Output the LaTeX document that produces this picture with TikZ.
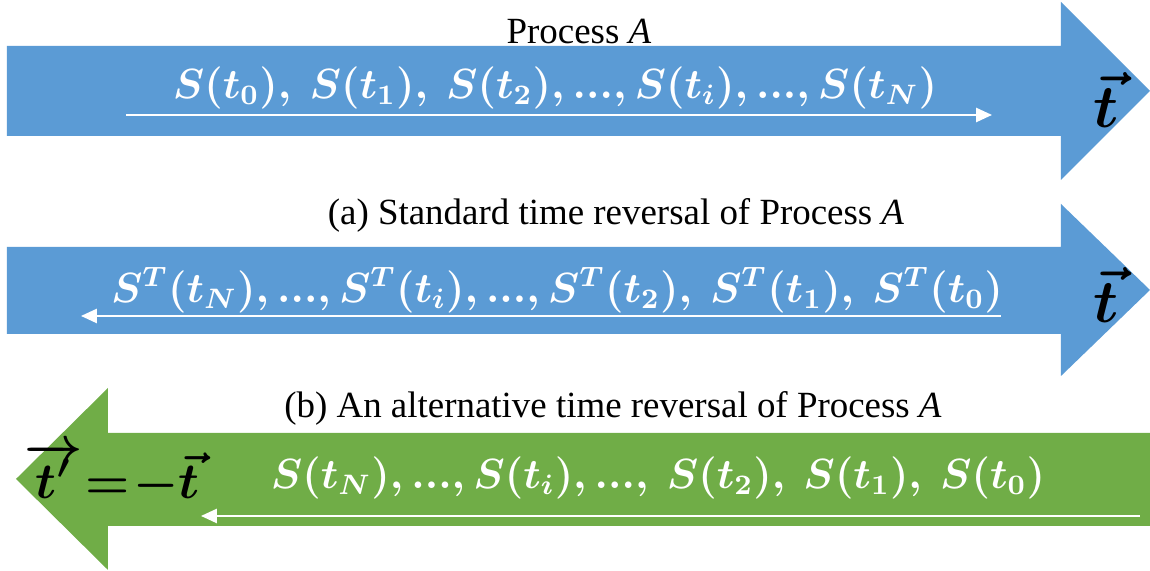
\documentclass[tikz,border=0pt]{standalone}
\usepackage{fontspec}
\setmainfont{Liberation Serif}
\usetikzlibrary{arrows.meta,positioning}
\definecolor{procblue}{HTML}{5B9BD5}
\definecolor{revgreen}{HTML}{70AD47}

\begin{document}
\begin{tikzpicture}[x=0.01cm,y=-0.01cm]
  \tikzstyle{caption}=[font=\fontsize{10.5}{12}\selectfont,inner sep=0pt]
  \tikzstyle{states}=[text=white,font=\fontsize{11.5}{14}\selectfont\boldmath,inner sep=0pt]
  \tikzstyle{timeaxis}=[font=\fontsize{19}{21}\selectfont\boldmath,inner sep=0pt]
  \tikzstyle{flow}=[draw=white,line width=0.6pt,-{Triangle[width=4pt,length=4.5pt]}]

  \useasboundingbox (0,0) rectangle (1150,571);

  % process A, time runs forward
  \fill[procblue] (7,46) -- (1061,46) -- (1061,2) -- (1150,91) -- (1061,180) -- (1061,136) -- (7,136) -- cycle;
  \node [caption] (procA) at (579,32) {Process \textit{A}};
  \node [states] (statesA) at (555,88) {$S(t_0),\ S(t_1),\ S(t_2), ..., S(t_i), ..., S(t_N)$};
  \node [timeaxis] (axisA) at (1106,100) {$\vec{t}$};
  \coordinate (flowAstart) at (126,115);
  \coordinate (flowAend) at (992,115);
  \draw [flow] (flowAstart) -- (flowAend);

  % (a) standard reversal
  \fill[procblue] (7,247) -- (1061,247) -- (1061,204) -- (1150,290) -- (1061,376) -- (1061,334) -- (7,334) -- cycle;
  \node [caption] (capStd) at (616,215) {(a) Standard time reversal of Process \textit{A}};
  \node [states] (statesStd) at (557,290) {$S^T(t_N), ..., S^T(t_i), ..., S^T(t_2),\ S^T(t_1),\ S^T(t_0)$};
  \node [timeaxis] (axisStd) at (1106,295) {$\vec{t}$};
  \coordinate (flowStdstart) at (1001,316);
  \coordinate (flowStdend) at (81,316);
  \draw [flow] (flowStdstart) -- (flowStdend);

  % (b) alternative reversal, time runs backward
  \fill[revgreen] (1150,433) -- (108,433) -- (108,388) -- (16,479) -- (108,570) -- (108,526) -- (1150,526) -- cycle;
  \node [caption] (capAlt) at (613,408) {(b) An alternative time reversal of Process \textit{A}};
  \node [states] (statesAlt) at (658,478) {$S(t_N), ..., S(t_i), ...,\ S(t_2),\ S(t_1),\ S(t_0)$};
  \node [timeaxis,font=\fontsize{14.5}{17}\selectfont\boldmath] (axisAlt) at (112,474)
    {\thickmuskip=1mu\medmuskip=0mu$\overrightarrow{t'} = -\vec{t}$};
  \coordinate (flowAltstart) at (1140,516);
  \coordinate (flowAltend) at (201,516);
  \draw [flow] (flowAltstart) -- (flowAltend);
\end{tikzpicture}
\end{document}
